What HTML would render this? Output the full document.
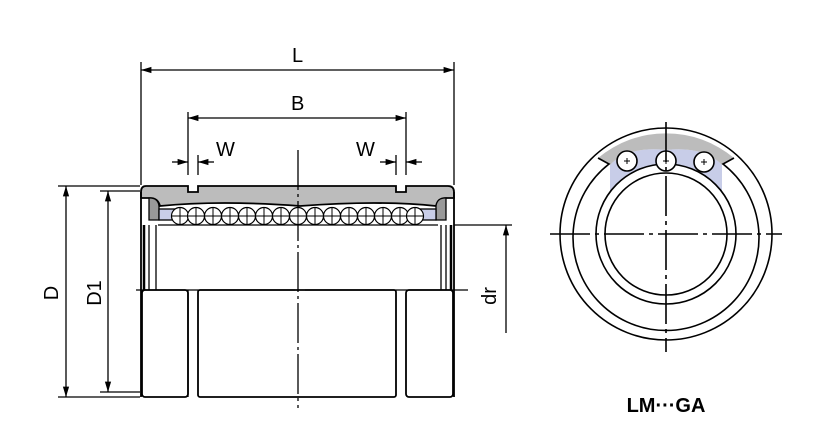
<!DOCTYPE html><html><head><style>body{margin:0;background:#fff}svg{display:block}text{font-family:"Liberation Sans",sans-serif}</style></head><body>
<svg width="818" height="436" viewBox="0 0 818 436" xmlns="http://www.w3.org/2000/svg">
<defs><marker id="a" viewBox="0 0 10 10" refX="10" refY="5" markerWidth="8" markerHeight="8" orient="auto-start-reverse"><path d="M0,2L10,5L0,8z" fill="#000"/></marker>
<g id="b"><circle r="8.5" fill="#fff"/><path d="M-8.5,0H8.5M0,-8.5V8.5" stroke-width="1"/></g></defs>
<g stroke="#000" stroke-width="1.3" fill="none">
<line x1="141" y1="62" x2="141" y2="185"/><line x1="454" y1="62" x2="454" y2="185"/>
<line x1="188" y1="112" x2="188" y2="175"/><line x1="406" y1="112" x2="406" y2="175"/>
<line x1="198" y1="155" x2="198" y2="175"/><line x1="396" y1="155" x2="396" y2="175"/>
<line x1="141" y1="70" x2="454" y2="70" marker-start="url(#a)" marker-end="url(#a)"/>
<line x1="188" y1="118" x2="406" y2="118" marker-start="url(#a)" marker-end="url(#a)"/>
<line x1="172" y1="162" x2="188" y2="162" marker-end="url(#a)"/><line x1="214" y1="162" x2="198" y2="162" marker-end="url(#a)"/>
<line x1="380" y1="162" x2="396" y2="162" marker-end="url(#a)"/><line x1="422" y1="162" x2="406" y2="162" marker-end="url(#a)"/>
<line x1="58" y1="186" x2="140" y2="186"/><line x1="58" y1="397" x2="140" y2="397"/>
<line x1="100" y1="191" x2="140" y2="191"/><line x1="100" y1="392" x2="140" y2="392"/>
<line x1="66" y1="186" x2="66" y2="397" marker-start="url(#a)" marker-end="url(#a)"/>
<line x1="108" y1="191" x2="108" y2="392" marker-start="url(#a)" marker-end="url(#a)"/>
<line x1="454" y1="225" x2="512" y2="225"/>
<line x1="506" y1="225" x2="506" y2="333" marker-start="url(#a)"/>
<path d="M146,186 H188 V192 H198 V186 H396 V192 H406 V186 H448 Q454,186 454,192 V198 H446 Q438,198 436,206 Q380,200 300,206 Q220,200 160,206 Q158,198 150,198 H141 V192 Q141,186 146,186Z" fill="#bcbcbc" stroke-width="1.8"/>
<path d="M141,192 V397 M454,192 V397" stroke-width="1.8"/>
<path d="M150,198 Q158,198 159,206 V220 H149 V198Z" fill="#999"/><path d="M445,198 Q437,198 436,206 V220 H446 V198Z" fill="#999"/>
<rect x="159" y="209" width="20" height="11" fill="#c8cde8"/><rect x="416" y="209" width="20" height="11" fill="#c8cde8"/>
<line x1="158" y1="225" x2="438" y2="225"/>
<line x1="144" y1="225" x2="144" y2="290" stroke-width="2.5"/><line x1="149" y1="225" x2="149" y2="290"/><line x1="156" y1="225" x2="156" y2="290"/>
<line x1="441" y1="225" x2="441" y2="290"/><line x1="446" y1="225" x2="446" y2="290"/><line x1="451" y1="225" x2="451" y2="290" stroke-width="2.5"/>
<line x1="136" y1="290" x2="295" y2="290"/><line x1="305" y1="290" x2="468" y2="290"/>
<rect x="142" y="290" width="46" height="107" rx="3" stroke-width="1.8"/>
<rect x="198" y="290" width="198" height="107" rx="2" stroke-width="1.8"/><rect x="406" y="290" width="47" height="107" rx="3" stroke-width="1.8"/>
<line x1="188" y1="290" x2="188" y2="397"/>
<line x1="298" y1="150" x2="298" y2="408" stroke-dasharray="40,4,3,4"/>
</g>
<g stroke="#000" stroke-width="1.2">
<use href="#b" x="180" y="216"/><use href="#b" x="196" y="216"/><use href="#b" x="213" y="216"/><use href="#b" x="230" y="216"/><use href="#b" x="247" y="216"/><use href="#b" x="264" y="216"/><use href="#b" x="281" y="216"/><use href="#b" x="298" y="216"/><use href="#b" x="315" y="216"/><use href="#b" x="332" y="216"/><use href="#b" x="349" y="216"/><use href="#b" x="366" y="216"/><use href="#b" x="383" y="216"/><use href="#b" x="400" y="216"/><use href="#b" x="415" y="216"/>
</g>
<g stroke="#000" stroke-width="1.6" fill="none">
<path d="M610,165 Q628,146 666,150 Q704,146 722,165 L722,192 A70,70 0 0 0 610,192Z" fill="#c8cde8" stroke="none"/>
<path d="M598,158 A106,106 0 0 1 734,158 L722,165 Q704,146 666,150 Q628,146 610,165Z" fill="#bcbcbc" stroke="none"/>
<circle cx="666" cy="234" r="106"/>
<path d="M598,158 L609,164 A93,93 0 1 0 723,164 L734,158"/>
<circle cx="666" cy="234" r="70"/><circle cx="666" cy="234" r="61"/>
<g fill="#fff"><circle cx="627" cy="161" r="10"/><circle cx="666" cy="161" r="10"/><circle cx="704" cy="162" r="10"/></g>
<path d="M624,161h6M627,158v6M663,161h6M666,158v6M701,162h6M704,159v6" stroke-width="1"/>
<line x1="550" y1="234" x2="782" y2="234" stroke-dasharray="40,5,4,5"/>
<line x1="666" y1="122" x2="666" y2="352" stroke-dasharray="40,5,4,5"/>
</g>
<g font-size="20" fill="#000">
<text x="292" y="62">L</text><text x="291" y="110">B</text>
<text x="216" y="156">W</text><text x="356" y="156">W</text>
<text transform="translate(58,293) rotate(-90)" text-anchor="middle">D</text>
<text transform="translate(101,293) rotate(-90)" text-anchor="middle">D1</text>
<text transform="translate(496,296) rotate(-90)" text-anchor="middle">dr</text>
<text x="666" y="412" text-anchor="middle" font-weight="bold">LM···GA</text>
</g>
</svg></body></html>
